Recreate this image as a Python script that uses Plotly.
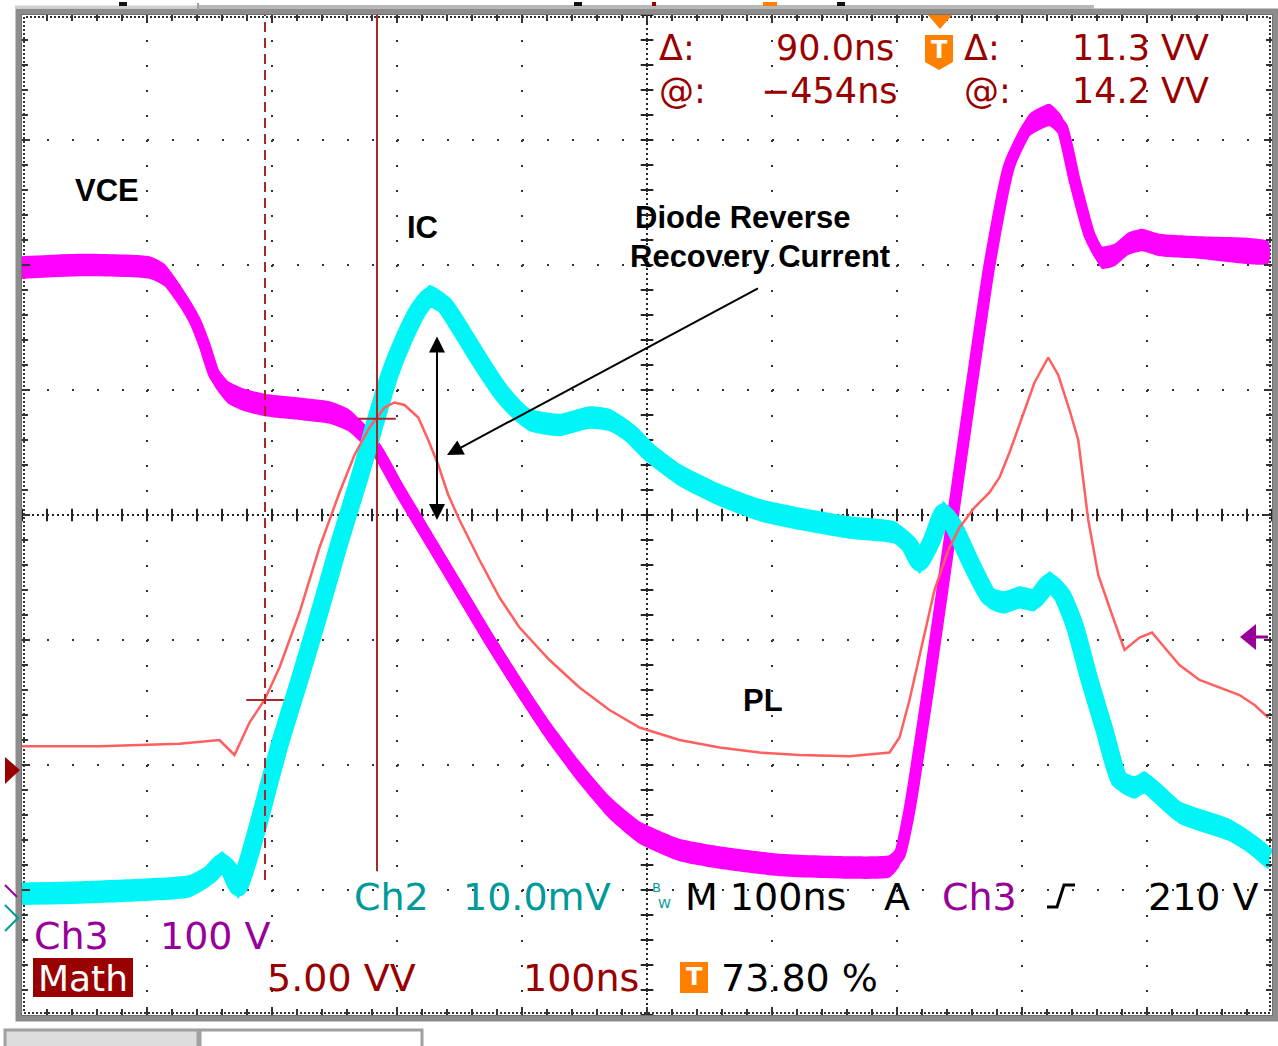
import numpy as np
import plotly.graph_objects as go

# ---------------- data (time in divisions of 100 ns, amplitude in screen divisions) -------------
vce_t = [0, 0.46, 1.02, 1.14, 1.26, 1.38, 1.46, 1.54, 1.65, 1.78, 1.94, 2.22, 2.46, 2.61, 2.72,
         2.84, 3.02, 3.26, 3.5, 3.74, 3.98, 4.22, 4.46, 4.7, 4.94, 5.26, 5.58, 6.06, 6.62, 6.94,
         7.02, 7.1, 7.26, 7.42, 7.58, 7.74, 7.9, 8.06, 8.22, 8.32, 8.42, 8.54, 8.64, 8.74, 8.85,
         8.96, 9.1, 9.42, 9.97]
vce_v = [5.98, 6.0, 5.98, 5.92, 5.76, 5.56, 5.36, 5.12, 4.98, 4.92, 4.88, 4.85, 4.82, 4.76, 4.66,
         4.52, 4.2, 3.8, 3.4, 3.0, 2.62, 2.26, 1.94, 1.66, 1.46, 1.32, 1.26, 1.2, 1.18, 1.19,
         1.28, 1.64, 2.68, 3.8, 4.92, 6.0, 6.8, 7.12, 7.2, 7.1, 6.68, 6.24, 6.06, 6.08, 6.17,
         6.2, 6.16, 6.14, 6.1]

ic_t = [0, 0.46, 0.94, 1.34, 1.5, 1.6, 1.66, 1.73, 1.81, 1.9, 2.06, 2.22, 2.38, 2.54, 2.7, 2.82,
        2.94, 3.06, 3.17, 3.26, 3.38, 3.5, 3.66, 3.82, 3.94, 4.06, 4.3, 4.54, 4.7, 4.86, 5.02,
        5.26, 5.58, 5.9, 6.22, 6.62, 6.98, 7.1, 7.18, 7.28, 7.37, 7.46, 7.58, 7.74, 7.86, 7.98,
        8.1, 8.22, 8.32, 8.42, 8.54, 8.66, 8.78, 8.9, 8.98, 9.1, 9.26, 9.42, 9.66, 9.82, 9.97]
ic_v = [0.97, 0.98, 1.0, 1.03, 1.12, 1.22, 1.16, 1.02, 1.24, 1.56, 2.16, 2.68, 3.22, 3.78, 4.3,
        4.72, 5.12, 5.42, 5.64, 5.75, 5.68, 5.5, 5.24, 5.0, 4.86, 4.76, 4.72, 4.78, 4.76, 4.66,
        4.5, 4.32, 4.16, 4.04, 3.97, 3.9, 3.86, 3.76, 3.62, 3.8, 4.02, 3.9, 3.64, 3.34, 3.3,
        3.34, 3.32, 3.46, 3.36, 3.12, 2.68, 2.28, 1.88, 1.82, 1.86, 1.76, 1.62, 1.56, 1.48,
        1.38, 1.26]

pl_t = [0, 0.62, 1.26, 1.58, 1.7, 1.82, 1.94, 2.06, 2.22, 2.38, 2.54, 2.66, 2.78, 2.9, 2.98,
        3.06, 3.17, 3.25, 3.33, 3.41, 3.5, 3.66, 3.82, 3.98, 4.22, 4.46, 4.7, 4.94, 5.26, 5.58,
        5.9, 6.22, 6.62, 6.94, 7.02, 7.1, 7.2, 7.3, 7.41, 7.5, 7.62, 7.74, 7.82, 7.9, 8.0, 8.1,
        8.21, 8.29, 8.38, 8.45, 8.53, 8.61, 8.7, 8.82, 8.94, 9.04, 9.14, 9.26, 9.42, 9.58, 9.74,
        9.86, 9.97]
pl_v = [2.15, 2.15, 2.17, 2.2, 2.08, 2.34, 2.52, 2.78, 3.22, 3.74, 4.18, 4.48, 4.7, 4.86, 4.9,
        4.88, 4.78, 4.6, 4.4, 4.16, 3.96, 3.64, 3.34, 3.1, 2.84, 2.62, 2.44, 2.3, 2.2, 2.14,
        2.1, 2.08, 2.07, 2.1, 2.22, 2.52, 2.96, 3.4, 3.72, 3.9, 4.06, 4.18, 4.3, 4.5, 4.78, 5.06,
        5.26, 5.12, 4.84, 4.6, 3.96, 3.52, 3.26, 2.92, 3.02, 3.06, 2.94, 2.8, 2.68, 2.62, 2.56,
        2.48, 2.38]

cursor_t = [1.944, 2.84]          # time cursors (dashed, solid)
cursor_v = [2.52, 4.77]           # Math cursor levels on PL

labels = ["VCE", "IC", "Diode Reverse", "Recovery Current", "PL"]

MAGENTA = "#ff00ff"
CYAN = "#00f6f6"
SALMON = "#ff5f5f"
DARKRED = "#990000"
CURSOR = "#a82828"
TEAL = "#009a9a"
PURPLE = "#990099"
ORANGE = "#ff8000"

# plot area in pixels
L, T, W, H = 22, 15, 1250, 1000


def px(x):
    return (x - L) / W


def py(y):
    return (T + H - y) / H


fig = go.Figure()


def band(t, v, h, color, lw):
    t = np.asarray(t, float)
    v = np.asarray(v, float)
    fig.add_trace(go.Scatter(
        x=np.concatenate([t, t[::-1]]),
        y=np.concatenate([v + h, (v - h)[::-1]]),
        fill="toself", fillcolor=color, line=dict(width=0, color=color, shape="spline", smoothing=0.5),
        mode="lines", hoverinfo="skip", showlegend=False))
    fig.add_trace(go.Scatter(x=t, y=v, mode="lines",
                             line=dict(color=color, width=lw, shape="spline", smoothing=0.5),
                             showlegend=False, hoverinfo="skip"))


# centre crosshair minor marks
xs = np.round(np.arange(0, 10.001, 0.2), 3)
ys = np.round(np.arange(0, 8.001, 0.2), 3)
fig.add_trace(go.Scatter(x=xs, y=[4] * len(xs), mode="markers",
                         marker=dict(symbol="line-ns", size=9, line=dict(width=2, color="#222")),
                         showlegend=False, hoverinfo="skip"))
fig.add_trace(go.Scatter(x=[5] * len(ys), y=ys, mode="markers",
                         marker=dict(symbol="line-ew", size=9, line=dict(width=2, color="#222")),
                         showlegend=False, hoverinfo="skip"))

band(vce_t, vce_v, 0.09, MAGENTA, 12)
band(ic_t, ic_v, 0.09, CYAN, 18)
fig.add_trace(go.Scatter(x=pl_t, y=pl_v, mode="lines", line=dict(color=SALMON, width=2.5),
                         showlegend=False, hoverinfo="skip"))

shapes = []
# centre crosshair dotted lines
shapes.append(dict(type="line", xref="x", yref="y", x0=0, x1=10, y0=4, y1=4,
                   line=dict(color="#222", width=2, dash="2px,3px"), layer="below"))
shapes.append(dict(type="line", xref="x", yref="y", x0=5, x1=5, y0=0, y1=8,
                   line=dict(color="#222", width=2, dash="2px,3px"), layer="below"))
# inner dotted border
shapes.append(dict(type="rect", xref="paper", yref="paper", x0=px(24), x1=px(1270), y0=py(1013),
                   y1=py(17), line=dict(color="#333", width=2, dash="2px,2px"), layer="below"))
# grey frame
shapes.append(dict(type="rect", xref="paper", yref="paper", x0=px(18.5), x1=px(1275.5),
                   y0=py(1018.5), y1=py(11.5), line=dict(color="#8c8c8c", width=6)))
# top strip
shapes.append(dict(type="line", xref="paper", yref="paper", x0=px(15), x1=px(198), y0=py(7), y1=py(7),
                   line=dict(color="#d0d0d0", width=3)))
shapes.append(dict(type="rect", xref="paper", yref="paper", x0=px(198), x1=px(1094), y0=py(9), y1=py(5),
                   line=dict(width=0), fillcolor="#b8b8b8"))
shapes.append(dict(type="line", xref="paper", yref="paper", x0=px(198), x1=px(198), y0=py(3), y1=py(10),
                   line=dict(color="#a0a0a0", width=2)))
for x0, x1, c in [(119, 127, "#111"), (574, 582, "#111"), (652, 656, DARKRED), (763, 777, ORANGE),
                  (837, 845, "#111")]:
    shapes.append(dict(type="rect", xref="paper", yref="paper", x0=px(x0), x1=px(x1), y0=py(6), y1=py(2),
                       line=dict(width=0), fillcolor=c))
# bottom tabs
shapes.append(dict(type="rect", xref="paper", yref="paper", x0=px(5), x1=px(198), y0=py(1050), y1=py(1030),
                   line=dict(color="#a0a0a0", width=3), fillcolor="#dcdcdc"))
shapes.append(dict(type="rect", xref="paper", yref="paper", x0=px(200), x1=px(422), y0=py(1050), y1=py(1030),
                   line=dict(color="#a0a0a0", width=3), fillcolor="white"))

# time cursors
shapes.append(dict(type="line", xref="x", yref="y", x0=cursor_t[0], x1=cursor_t[0], y0=1.08, y1=8,
                   line=dict(color=CURSOR, width=2, dash="10px,6px")))
shapes.append(dict(type="line", xref="x", yref="y", x0=cursor_t[1], x1=cursor_t[1], y0=1.15, y1=8,
                   line=dict(color=CURSOR, width=2)))
for ct, cv in zip(cursor_t, cursor_v):
    shapes.append(dict(type="line", xref="x", yref="y", x0=ct - 0.15, x1=ct + 0.15, y0=cv, y1=cv,
                       line=dict(color=CURSOR, width=2)))


def poly(points, fill, line_color=None, lw=0, closed=True):
    d = "M " + " L ".join(f"{px(a):.5f},{py(b):.5f}" for a, b in points)
    if closed:
        d += " Z"
    return dict(type="path", xref="paper", yref="paper", path=d,
                fillcolor=fill if closed else None,
                line=dict(color=line_color or fill or "rgba(0,0,0,0)", width=lw))


# trigger markers / T icons
shapes.append(poly([(928, 15), (952, 15), (940, 29)], ORANGE))
shapes.append(poly([(925, 35), (953, 35), (953, 62), (939, 70), (925, 62)], ORANGE))
shapes.append(dict(type="rect", xref="paper", yref="paper", x0=px(680), x1=px(708), y0=py(993), y1=py(962),
                   fillcolor=ORANGE, line=dict(width=0)))
# left markers
shapes.append(poly([(5, 757), (20, 770), (5, 784)], DARKRED))
shapes.append(poly([(5, 885), (17, 897)], None, PURPLE, 2, closed=False))
shapes.append(poly([(5, 905), (18, 918), (5, 931)], None, TEAL, 2, closed=False))
# right marker
shapes.append(poly([(1240, 637), (1256, 624), (1256, 650)], PURPLE))
shapes.append(poly([(1254, 637), (1268, 637)], None, PURPLE, 3, closed=False))
# trigger slope symbol
shapes.append(poly([(1047, 907), (1057, 907), (1064, 885), (1075, 885)], None, "#000", 3, closed=False))
# Math box
shapes.append(dict(type="rect", xref="paper", yref="paper", x0=px(33), x1=px(133), y0=py(997), y1=py(958),
                   fillcolor=DARKRED, line=dict(width=0)))

ann = []
BOLD = dict(family="Liberation Sans, Arial, sans-serif", size=31, color="#000")
for text, x, y in zip(labels, [0.68, 3.2, 5.76, 5.9, 5.93], [6.6, 6.3, 6.38, 6.07, 2.52]):
    ann.append(dict(x=x, y=y, xref="x", yref="y", text=f"<b>{text}</b>", showarrow=False, font=BOLD))

# arrows
ann.append(dict(x=3.32, y=3.96, ax=3.32, ay=5.44, xref="x", yref="y", axref="x", ayref="y", text="",
                showarrow=True, arrowhead=2, startarrowhead=2, arrowside="end+start", arrowsize=1.6,
                arrowwidth=2, arrowcolor="#000"))
ann.append(dict(x=3.4, y=4.48, ax=5.9, ay=5.82, xref="x", yref="y", axref="x", ayref="y", text="",
                showarrow=True, arrowhead=2, arrowsize=1.6, arrowwidth=2, arrowcolor="#000"))

SCOPE = "DejaVu Sans, Verdana, sans-serif"


def txt(s, x, y, color, anchor="left", size=38, family=SCOPE):
    ann.append(dict(x=px(x), y=py(y), xref="paper", yref="paper", text=s, showarrow=False,
                    xanchor=anchor, yanchor="middle", borderpad=0,
                    font=dict(family=family, size=size, color=color)))


txt("Δ:", 658, 48, DARKRED, size=35)
txt("90.0ns", 895, 48, DARKRED, "right", size=35)
txt("@:", 658, 91, DARKRED, size=35)
txt("−454ns", 899, 91, DARKRED, "right", size=35)
txt("Δ:", 963, 48, DARKRED, size=35)
txt("11.3 VV", 1210, 48, DARKRED, "right", size=35)
txt("@:", 963, 91, DARKRED, size=35)
txt("14.2 VV", 1210, 91, DARKRED, "right", size=35)
txt("<b>T</b>", 939, 50, "white", "center", size=24)
txt("<b>T</b>", 694, 977, "white", "center", size=24)

txt("Ch2", 353, 897, TEAL)
txt("10.0mV", 612, 897, TEAL, "right")
txt("B", 651, 887, TEAL, size=13)
txt("W", 657, 903, TEAL, size=13)
txt("M 100ns", 847, 897, "#000", "right")
txt("A", 883, 897, "#000")
txt("Ch3", 941, 897, PURPLE)
txt("210 V", 1260, 897, "#000", "right")
txt("Ch3", 33, 936, PURPLE)
txt("100 V", 272, 936, PURPLE, "right")
txt("Math", 83, 978, "white", "center", size=36)
txt("5.00 VV", 417, 978, DARKRED, "right")
txt("100ns", 640, 978, DARKRED, "right")
txt("73.80 %", 720, 978, "#000")

axis_common = dict(showgrid=True, gridcolor="#333", gridwidth=2, griddash="2px,23px",
                   zeroline=False, showticklabels=False, ticks="inside", ticklen=8, tickwidth=2,
                   tickcolor="#333", showline=True, linecolor="#555", linewidth=1, mirror="ticks",
                   minor=dict(dtick=0.2, ticks="inside", ticklen=6, tickwidth=2, tickcolor="#333",
                              showgrid=False),
                   fixedrange=True)

fig.update_layout(
    width=1278, height=1046,
    margin=dict(l=L, r=1278 - L - W, t=T, b=1046 - T - H),
    paper_bgcolor="white", plot_bgcolor="white",
    xaxis=dict(range=[0, 10], dtick=1, tick0=0, **axis_common),
    yaxis=dict(range=[0, 8], dtick=1, tick0=0, **axis_common),
    shapes=shapes, annotations=ann, showlegend=False,
)

fig.write_html("out.html", config={"displayModeBar": False},
               post_script="document.body.style.margin='0px';document.body.style.overflow='hidden';")
